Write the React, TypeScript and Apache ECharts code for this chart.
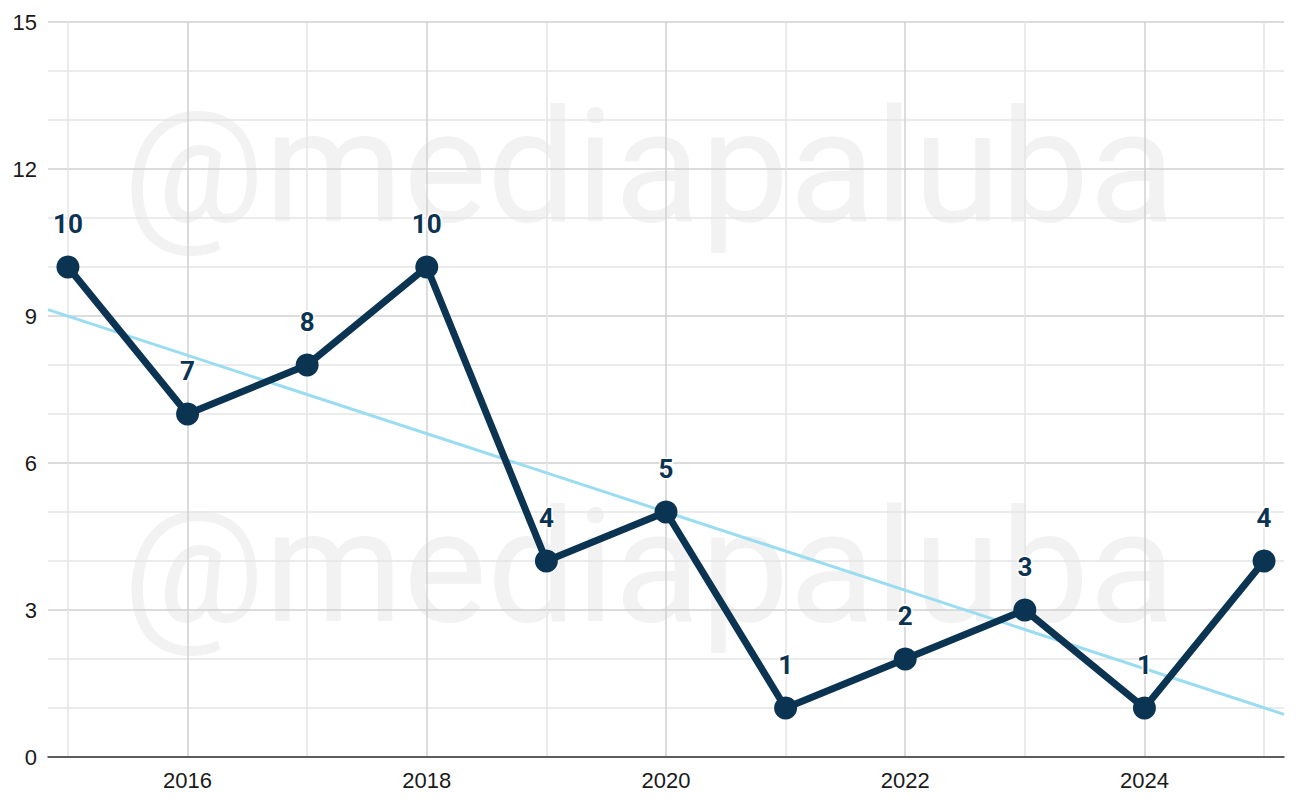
import React, { useEffect, useRef } from "react";
import * as echarts from "echarts";

const years = [2015, 2016, 2017, 2018, 2019, 2020, 2021, 2022, 2023, 2024, 2025];
const values = [10, 7, 8, 10, 4, 5, 1, 2, 3, 1, 4];
const xLabelYears = [2016, 2018, 2020, 2022, 2024];
const trendX = [2014.8333, 2025.1667];
const trendY = [9.13, 0.87];
const watermark = "@mediapaluba";

export default function App() {
  const ref = useRef<HTMLDivElement>(null);
  useEffect(() => {
    if (!ref.current) return;
    const chart = echarts.init(ref.current, undefined, { renderer: "svg" });
    const font = "Roboto, 'Noto Sans', sans-serif";
    const tickFont = "'Liberation Sans', Arial, sans-serif";
    chart.setOption({
      animation: false,
      backgroundColor: "#ffffff",
      textStyle: { fontFamily: font },
      grid: { left: 48, right: 16, top: 22, bottom: 52, containLabel: false },
      graphic: [
        {
          type: "text",
          z: -10,
          x: 649,
          y: 167,
          style: {
            text: watermark,
            fontSize: 158,
            fontFamily: font,
            fill: "#f2f2f2",
            align: "center",
            verticalAlign: "middle",
          },
        },
        {
          type: "text",
          z: -10,
          x: 649,
          y: 567,
          style: {
            text: watermark,
            fontSize: 158,
            fontFamily: font,
            fill: "#f2f2f2",
            align: "center",
            verticalAlign: "middle",
          },
        },
      ],
      xAxis: {
        type: "value",
        min: trendX[0],
        max: trendX[1],
        axisLine: { show: true, onZero: false, lineStyle: { color: "#333333", width: 1.5 } },
        axisTick: { show: false, customValues: years },
        axisLabel: {
          customValues: xLabelYears,
          color: "#1a1a1a",
          fontSize: 22,
          margin: 12,
          fontFamily: tickFont,
          formatter: (v: number) => String(Math.round(v)),
        },
        splitLine: { show: true, lineStyle: { color: ["#e4e4e4", "#d0d0d0"], width: 1.5 } },
      },
      yAxis: {
        type: "value",
        min: 0,
        max: 15,
        interval: 3,
        axisLine: { show: false },
        axisTick: { show: false },
        axisLabel: { color: "#1a1a1a", fontSize: 22, margin: 11, fontFamily: tickFont },
        splitLine: { show: true, lineStyle: { color: "#d0d0d0", width: 1.5 } },
        minorTick: { show: false, splitNumber: 3 },
        minorSplitLine: { show: true, lineStyle: { color: "#e4e4e4", width: 1.5 } },
      },
      series: [
        {
          type: "line",
          z: 2,
          data: trendX.map((x, i) => [x, trendY[i]]),
          showSymbol: false,
          symbol: "none",
          lineStyle: { color: "#9adcf0", width: 3 },
          silent: true,
        },
        {
          type: "line",
          z: 3,
          data: years.map((y, i) => [y, values[i]]),
          symbol: "circle",
          symbolSize: 23,
          itemStyle: { color: "#0b3352" },
          lineStyle: { color: "#0b3352", width: 7 },
          label: {
            show: true,
            position: "top",
            distance: 19,
            fontSize: 26,
            fontWeight: "bold",
            color: "#0b3352",
            fontFamily: font,
            textBorderColor: "#ffffff",
            textBorderWidth: 3,
          },
        },
      ],
    });
    return () => chart.dispose();
  }, []);
  return <div ref={ref} style={{ width: 1300, height: 809, position: "absolute", left: 0, top: 0 }} />;
}
